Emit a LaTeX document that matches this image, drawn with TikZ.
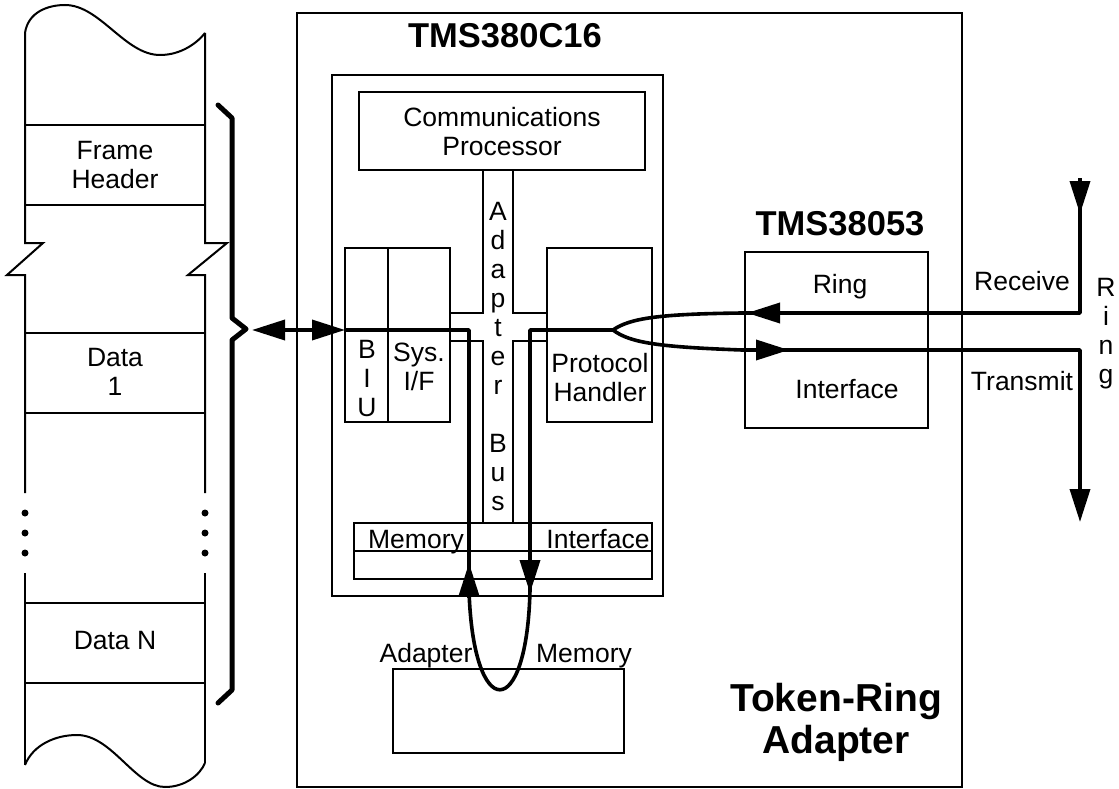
\documentclass[tikz,border=0pt]{standalone}
\usepackage{fontspec}
\setmainfont{Liberation Sans}
\usetikzlibrary{arrows.meta}
\begin{document}
\begin{tikzpicture}[x=1pt,y=-1pt,
  thinln/.style={line width=2pt},
  thickln/.style={line width=3.6pt, line join=round},
  box/.style={draw, line width=2pt, inner sep=0pt, outer sep=0pt, anchor=north west},
  tipend/.style={-{Triangle[length=33pt,width=20pt]}},
  dbl/.style={{Triangle[length=33pt,width=20pt]}-{Triangle[length=33pt,width=20pt]}},
  lbl/.style={font=\fontsize{26.5}{29}\selectfont, align=center, inner sep=0pt},
  lblb/.style={font=\fontsize{26.5}{29}\selectfont, inner sep=0pt, anchor=base},
  ttl/.style={font=\bfseries\fontsize{34.5}{38}\selectfont, inner sep=0pt, anchor=base},
  bigttl/.style={font=\bfseries\fontsize{39}{42}\selectfont, align=center, inner sep=0pt}]
\useasboundingbox (0,0) rectangle (1119,789);

% ---------- frame strip ----------
\draw[thinln] (25,33) .. controls (28,12) and (48,5) .. (65,5) .. controls (100,5) and (125,55) .. (160,55) .. controls (182,55) and (198,42) .. (205,33);
\draw[thinln] (25,33) -- (25,243) -- (43,243) -- (7,275) -- (25,275) -- (25,493);
\draw[thinln] (205,33) -- (205,243) -- (227,243) -- (188,275) -- (205,275) -- (205,493);
\draw[thinln] (25,573) -- (25,765);
\draw[thinln] (205,573) -- (205,763);
\draw[thinln] (25,765) .. controls (33,745) and (55,735) .. (77,735) .. controls (112,735) and (135,787) .. (165,787) .. controls (185,787) and (200,775) .. (205,763);
\foreach \yy in {125,205,333,413,603,683} \draw[thinln] (25,\yy) -- (205,\yy);
\foreach \yy in {513,533,553} {\fill (25,\yy) circle (3.5pt); \fill (205,\yy) circle (3.5pt);}
\node[lbl] (fh) at (115,165) {Frame\\Header};
\node[lbl] (d1) at (115,372) {Data\\1};
\node[lbl] (dn) at (115,641) {Data N};

% brace
\draw[line width=5pt, line join=round, line cap=round] (218,105) -- (232,118) -- (232,318) -- (246,329) -- (232,340) -- (232,690) -- (218,703);
\coordinate (bracept) at (252,330);

% ---------- boxes ----------
\node[box, minimum width=665pt, minimum height=774pt] (tra) at (297,13) {};
\node[box, minimum width=331pt, minimum height=521pt] (chip) at (332,75) {};
\node[box, minimum width=286pt, minimum height=78pt] (comm) at (359,92) {};
\node[box, minimum width=43pt, minimum height=174pt] (biu) at (345,248) {};
\node[box, minimum width=62pt, minimum height=174pt] (sysif) at (388,248) {};
\node[box, minimum width=105pt, minimum height=174pt] (proto) at (547,248) {};
\node[box, minimum width=298pt, minimum height=56pt] (memif) at (354,523) {};
\draw[thinln] (354,551) -- (652,551);
\node[box, minimum width=231pt, minimum height=84pt] (admem) at (393,669) {};
\node[box, minimum width=183pt, minimum height=176pt] (ringif) at (745,252) {};

% adapter bus
\draw[thinln] (483,170) -- (483,313) -- (450,313);
\draw[thinln] (450,341) -- (483,341) -- (483,523);
\draw[thinln] (513,170) -- (513,313) -- (547,313);
\draw[thinln] (547,341) -- (513,341) -- (513,523);
\node[lbl] (busl) at (498,357) {A\\d\\a\\p\\t\\e\\r\\[29pt]B\\u\\s};

% ---------- labels ----------
\node[ttl] (t1) at (505,48) {TMS380C16};
\node[lbl] (commt) at (502,132) {Communications\\Processor};
\node[lbl] (biut) at (367,379) {B\\I\\U};
\node[lbl] (syst) at (419,367) {Sys.\\I/F};
\node[lbl] (protot) at (600,378) {Protocol\\Handler};
\node[lblb] (memt) at (416,548) {Memory};
\node[lblb] (ift) at (598,548) {Interface};
\node[lblb] (adt) at (426,662) {Adapter};
\node[lblb] (mmt) at (584,662) {Memory};
\node[ttl] (t2) at (840,235) {TMS38053};
\node[lblb] (ringt) at (840,293) {Ring};
\node[lblb] (rift) at (847,398) {Interface};
\node[lblb] (rcv) at (1022,290) {Receive};
\node[lblb] (xmt) at (1022,390) {Transmit};
\node[lbl] (ringv) at (1106,334) {R\\i\\n\\g};
\node[bigttl] (trat) at (836,722) {Token-Ring\\Adapter};

% ---------- data paths ----------
\coordinate (fork) at (613,330);
\coordinate (ringtop) at (1080,178);
\coordinate (ringbot) at (1080,522);

\draw[thickln, dbl] (bracept) -- (biu.west |- bracept);
\draw[thickln] (biu.west |- bracept) -- (469,330) -- (469,590) .. controls (473,723) and (527,723) .. (530,590) -- (530,330) -- (fork);
\draw[thickln, tipend] (469,598) -- (469,563);
\draw[thickln, tipend] (530,558) -- (530,593);

\draw[thickln] (ringtop) -- (1080,313) -- (742,313) .. controls (660,314) and (630,318) .. (fork);
\draw[thickln, tipend] (fork) .. controls (630,343) and (660,347) .. (742,350) -- (1080,350) -- (ringbot);
\draw[thickln, tipend] (ringtop) -- (1080,214);
\draw[thickln, tipend] (790,313) -- (747,313);
\draw[thickln, tipend] (750,350) -- (789,350);
\end{tikzpicture}
\end{document}
